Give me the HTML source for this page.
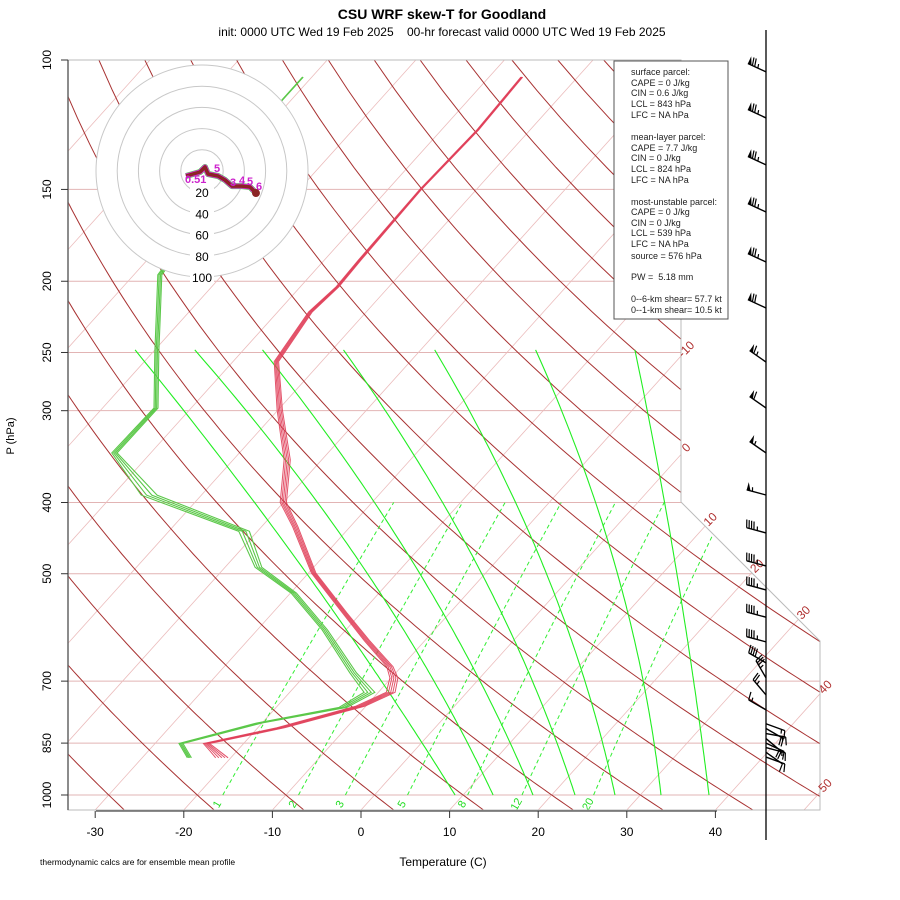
<!DOCTYPE html>
<html><head><meta charset="utf-8"><style>
html,body{margin:0;padding:0;background:#fff;}
svg{display:block;font-family:"Liberation Sans",sans-serif;}
</style></head><body>
<svg id="chart" width="900" height="900" viewBox="0 0 900 900" xmlns="http://www.w3.org/2000/svg">
<defs><clipPath id="plotclip"><polygon points="68,60 681,60 681,502 820,641 820,810 68,810"/></clipPath></defs>
<rect x="0" y="0" width="900" height="900" fill="#fff"/>
<text x="442" y="19" text-anchor="middle" font-size="14" font-weight="bold">CSU WRF skew-T for Goodland</text>
<text x="442" y="36" text-anchor="middle" font-size="12" xml:space="preserve">init: 0000 UTC Wed 19 Feb 2025    00-hr forecast valid 0000 UTC Wed 19 Feb 2025</text>
<g id="grid" clip-path="url(#plotclip)"></g>
<g id="traces" clip-path="url(#plotclip)"></g>
<g id="frame"></g>
<g id="hodo"></g>
<g id="barbs"></g>
<g id="statsbox">
<rect x="614" y="61" width="114" height="258" fill="#fff" stroke="#555" stroke-width="1"/>
<g font-size="9" fill="#222">
<text x="631" y="75">surface parcel:</text>
<text x="631" y="86">CAPE = 0 J/kg</text>
<text x="631" y="96">CIN = 0.6 J/kg</text>
<text x="631" y="107">LCL = 843 hPa</text>
<text x="631" y="118">LFC = NA hPa</text>
<text x="631" y="140">mean-layer parcel:</text>
<text x="631" y="151">CAPE = 7.7 J/kg</text>
<text x="631" y="161">CIN = 0 J/kg</text>
<text x="631" y="172">LCL = 824 hPa</text>
<text x="631" y="183">LFC = NA hPa</text>
<text x="631" y="205">most-unstable parcel:</text>
<text x="631" y="215">CAPE = 0 J/kg</text>
<text x="631" y="226">CIN = 0 J/kg</text>
<text x="631" y="236">LCL = 539 hPa</text>
<text x="631" y="247">LFC = NA hPa</text>
<text x="631" y="259">source = 576 hPa</text>
<text x="631" y="280" xml:space="preserve">PW =  5.18 mm</text>
<text x="631" y="302">0--6-km shear= 57.7 kt</text>
<text x="631" y="313">0--1-km shear= 10.5 kt</text>
</g></g>
<text x="443" y="866" text-anchor="middle" font-size="12">Temperature (C)</text>
<text x="14" y="436" text-anchor="middle" font-size="11" transform="rotate(-90 14 436)">P (hPa)</text>
<text x="40" y="865" font-size="8.5">thermodynamic calcs are for ensemble mean profile</text>
</svg>
<script>
// ---- data ----
const tempP = [105.5,124.5,150.2,187.2,203.4,220.2,257.2,299.4,350,400,431.5,499,565,616,669,693,725,757,810,851,869,890];
const tempC = [-56.3,-55.9,-56.3,-56.0,-55.8,-56.3,-55.1,-49.8,-43.9,-40.0,-36.2,-29.4,-21.9,-16.6,-11.3,-9.7,-8.6,-10.6,-17.4,-24.2,-22.7,-21.0];
const tempSpread = [0.1,0.1,0.1,0.15,0.15,0.2,0.25,0.3,0.35,0.35,0.3,0.25,0.25,0.3,0.35,0.45,0.5,0.5,0.45,0.35,0.5,0.7];
const dewP = [105.5,113.4,145.7,196,225.8,250.4,297.5,342.4,390.8,437.8,490.1,531.5,596,682,725,760,798,851,890];
const dewC = [-81.0,-81.0,-78.8,-77.0,-72.6,-69.4,-63.9,-64.0,-55.6,-41.3,-36.1,-29.5,-22.3,-14.7,-10.8,-12.3,-20.2,-27.0,-24.6];
const dewSpread = [0.05,0.05,0.2,0.3,0.3,0.3,0.3,0.4,1.2,0.8,0.5,0.4,0.4,0.5,0.8,0.6,0.4,0.3,0.3];
const memberWeights = [-1,-0.5,0,0.5,1];
const pLabels = [100,150,200,250,300,400,500,700,850,1000];
const tLabels = [-30,-20,-10,0,10,20,30,40];
const mixRatios = [1,2,3,5,8,12,20];
const isoLabels = [-10,0,10,20,30,40,50];
const moistBottom = [9.09,13.38,17.89,22.63,27.14,32.33,37.75];
const moistMid = [-43.25,-36.14,-29.71,-22.03,-13.79,-4.76,3.03];
const moistTop = [-73.6,-66.9,-59.2,-50.0,-39.6,-28.1,-16.7];
const barbP = [103.8,119.9,138.9,161.0,188.3,217.5,257.6,297.5,342.5,390.7,440,488,526,573,619,661,693,731,766,800,812,825,838,850,862,875,888];
const barbSpd = [75,75,75,75,75,70,65,60,55,55,45,45,45,45,45,40,35,25,15,15,20,15,20,15,15,10,10];
const barbDir = [295,295,295,295,295,295,305,305,305,285,285,285,285,285,285,300,330,320,300,110,120,100,130,115,105,125,110];
const hodoU = [-15.1,-8.5,-1.9,2.8,5.7,15.1,21.7,28.3,37.7,45.3,50.9];
const hodoV = [-4.7,-2.8,-0.9,3.8,-2.8,-4.7,-8.5,-14.2,-14.2,-15.1,-20.8];
const hodoRings = [20,40,60,80,100];

// ---- axes ----
const NS='http://www.w3.org/2000/svg';
function Y(p){return 60+319.2*Math.log(p/100);}
function X(T,p){return 361+8.86*T+0.9*(810-Y(p));}
function el(tag,attrs,parent){const e=document.createElementNS(NS,tag);for(const k in attrs)e.setAttribute(k,attrs[k]);parent.appendChild(e);return e;}
function pathFrom(pts){return pts.map((q,i)=>(i?'L':'M')+q[0].toFixed(1)+','+q[1].toFixed(1)).join('');}
const grid=document.getElementById('grid'),traces=document.getElementById('traces'),frame=document.getElementById('frame');

pLabels.forEach(p=>{
  const l=el('line',{x1:68,x2:820,y1:Y(p),y2:Y(p),stroke:'#e2b4b4','stroke-width':1},grid);
  
  
});
for(let T=-160;T<=50;T+=10){
  const l=el('line',{x1:X(T,1050),y1:Y(1050),x2:X(T,100),y2:Y(100),stroke:'#ebbcbc','stroke-width':0.8},grid);
  
  
}
for(let th=-40;th<=200;th+=10){
  const pts=[];
  for(let p=1050;p>=100;p-=10){const T=(th+273.15)*Math.pow(p/1000,0.2857)-273.15;pts.push([X(T,p),Y(p)]);}
  const l=el('path',{d:pathFrom(pts),fill:'none',stroke:'#a83232','stroke-width':1},grid);
  
  
}
mixRatios.forEach(w=>{
  const pts=[];
  for(let p=1000;p>=400;p-=20){const e=w*p/(622+w);const a=Math.log(e/6.112);const Td=243.5*a/(17.67-a);pts.push([X(Td,p),Y(p)]);}
  const l=el('path',{d:pathFrom(pts),fill:'none',stroke:'#33ee33','stroke-width':1,'stroke-dasharray':'4,3'},grid);
  
  
  const x0=pts[0][0];
  const t=el('text',{x:x0-6,y:808,'font-size':11,fill:'#22dd22','text-anchor':'middle',transform:'rotate(-60 '+(x0-6)+' 804)'},frame);
  t.textContent=w;
  
  
});
const u0=Math.log(1000),u1=Math.log(400),u2=Math.log(242.6);
moistBottom.forEach((tb,i)=>{
  const tm=moistMid[i],tt=moistTop[i];const pts=[];
  for(let p=1000;p>=242;p-=8){
    const u=Math.log(p);
    const T=tb*(u-u1)*(u-u2)/((u0-u1)*(u0-u2))+tm*(u-u0)*(u-u2)/((u1-u0)*(u1-u2))+tt*(u-u0)*(u-u1)/((u2-u0)*(u2-u1));
    pts.push([X(T,p),Y(p)]);
  }
  const l=el('path',{d:pathFrom(pts),fill:'none',stroke:'#22ee22','stroke-width':1.1},grid);
  
  
});
memberWeights.forEach(k=>{
  const pts=tempP.map((p,i)=>[X(tempC[i]+k*tempSpread[i],p),Y(p)]);
  const l=el('path',{d:pathFrom(pts),fill:'none',stroke:'#e0405a','stroke-width':1,'stroke-opacity':0.9},traces);
  
  
});
memberWeights.slice(0,4).forEach(k=>{
  const pts=dewP.map((p,i)=>[X(dewC[i]+k*dewSpread[i],p),Y(p)]);
  const l=el('path',{d:pathFrom(pts),fill:'none',stroke:'#5cc84a','stroke-width':1.1},traces);
  
  
});
const fr=el('polyline',{points:'68,60 681,60 681,502 820,641 820,810 68,810 68,60',fill:'none',stroke:'#bbb','stroke-width':1},frame);


const la=el('line',{x1:68,y1:60,x2:68,y2:810,stroke:'#666','stroke-width':1.5},frame);


pLabels.forEach(p=>{
  const y=Y(p);
  const tk=el('line',{x1:61,x2:68,y1:y,y2:y,stroke:'#333'},frame);
  
  
  const t=el('text',{x:51,y:y,'font-size':12,'text-anchor':'middle',transform:'rotate(-90 51 '+y+')'},frame);
  t.textContent=p;
  
  
});
const ba=el('line',{x1:96,y1:811,x2:717,y2:811,stroke:'#666','stroke-width':1.5},frame);


tLabels.forEach(T=>{
  const x=361+8.86*T;
  const tk=el('line',{x1:x,x2:x,y1:811,y2:818,stroke:'#333'},frame);
  
  
  const t=el('text',{x:x,y:836,'font-size':12,'text-anchor':'middle'},frame);
  t.textContent=T;
  
  
});
isoLabels.forEach(T=>{
  let y=810-(681-361-8.86*T)/0.9,x=681;
  if(y>502){y=(911+8.86*T)/1.9;x=681+(y-502);if(y>641){x=820;y=810-(820-361-8.86*T)/0.9;}}
  const tx=x+8,ty=y-4;
  const t=el('text',{x:tx,y:ty,'font-size':12,fill:'#b03030','text-anchor':'middle',transform:'rotate(-45 '+tx+' '+ty+')'},frame);
  t.textContent=T;
  
  
});
const hodo=document.getElementById('hodo');const cx=202,cy=171,hs=1.06;
el('circle',{cx:cx,cy:cy,r:100*hs,fill:'#fff',stroke:'none'},hodo);
hodoRings.forEach(r=>{
  const c=el('circle',{cx:cx,cy:cy,r:r*hs,fill:'none',stroke:'#c8c8c8','stroke-width':1},hodo);
  
  
});
hodoRings.forEach(r=>{
  el('rect',{x:cx-12,y:cy+r*hs-7,width:24,height:13,fill:'#fff'},hodo);
  const t=el('text',{x:cx,y:cy+r*hs+5,'font-size':12,'text-anchor':'middle'},hodo);
  t.textContent=r;
  
  
});
const hp=hodoU.map((u,i)=>[cx+u*hs,cy-hodoV[i]*hs]);
const hg=el('path',{d:pathFrom(hp),fill:'none',stroke:'#44dd44','stroke-width':6,'stroke-linejoin':'round'},hodo);


const hm=el('path',{d:pathFrom(hp),fill:'none',stroke:'#dd22dd','stroke-width':5,'stroke-linejoin':'round'},hodo);


const ht=el('path',{d:pathFrom(hp),fill:'none',stroke:'#8b2525','stroke-width':3.5,'stroke-linejoin':'round'},hodo);


[['0.51',185,183],['5',214,172],['3',230,186],['4',239,184],['5',247,185],['6',256,190]].forEach(a=>{
  const t=el('text',{x:a[1],y:a[2],'font-size':11,fill:'#cc22cc','font-weight':'bold'},hodo);
  t.textContent=a[0];
  
  
});
el('circle',{cx:hp[hp.length-1][0],cy:hp[hp.length-1][1],r:4,fill:'#8b2525'},hodo);
const barbs=document.getElementById('barbs');const bx=766;
const ax=el('line',{x1:bx,y1:30,x2:bx,y2:840,stroke:'#000','stroke-width':1.3},barbs);


barbP.forEach((p,i)=>{
  const y=Y(p),d=barbDir[i]*Math.PI/180,L=20;
  const dx=Math.sin(d),dy=-Math.cos(d);
  const tx=bx+dx*L,ty=y+dy*L;
  const g=el('g',{},barbs);
  
  
  el('line',{x1:bx,y1:y,x2:tx,y2:ty,stroke:'#000','stroke-width':1.4},g);
  const px=-dy,py=dx;
  let s=barbSpd[i],pos=0;
  while(s>=50){
    const ax1=tx-dx*pos,ay1=ty-dy*pos,ax2=tx-dx*(pos+4),ay2=ty-dy*(pos+4);
    el('polygon',{points:ax1+','+ay1+' '+(ax1+px*8)+','+(ay1+py*8)+' '+ax2+','+ay2,fill:'#000'},g);
    pos+=5;s-=50;
  }
  while(s>=10){
    const ax1=tx-dx*pos,ay1=ty-dy*pos;
    el('line',{x1:ax1,y1:ay1,x2:ax1+px*8+dx*2,y2:ay1+py*8+dy*2,stroke:'#000','stroke-width':1.2},g);
    pos+=2.5;s-=10;
  }
  if(s>=5){
    const ax1=tx-dx*(pos+1),ay1=ty-dy*(pos+1);
    el('line',{x1:ax1,y1:ay1,x2:ax1+px*4+dx*1,y2:ay1+py*4+dy*1,stroke:'#000','stroke-width':1.2},g);
  }
});
</script>
</body></html>
